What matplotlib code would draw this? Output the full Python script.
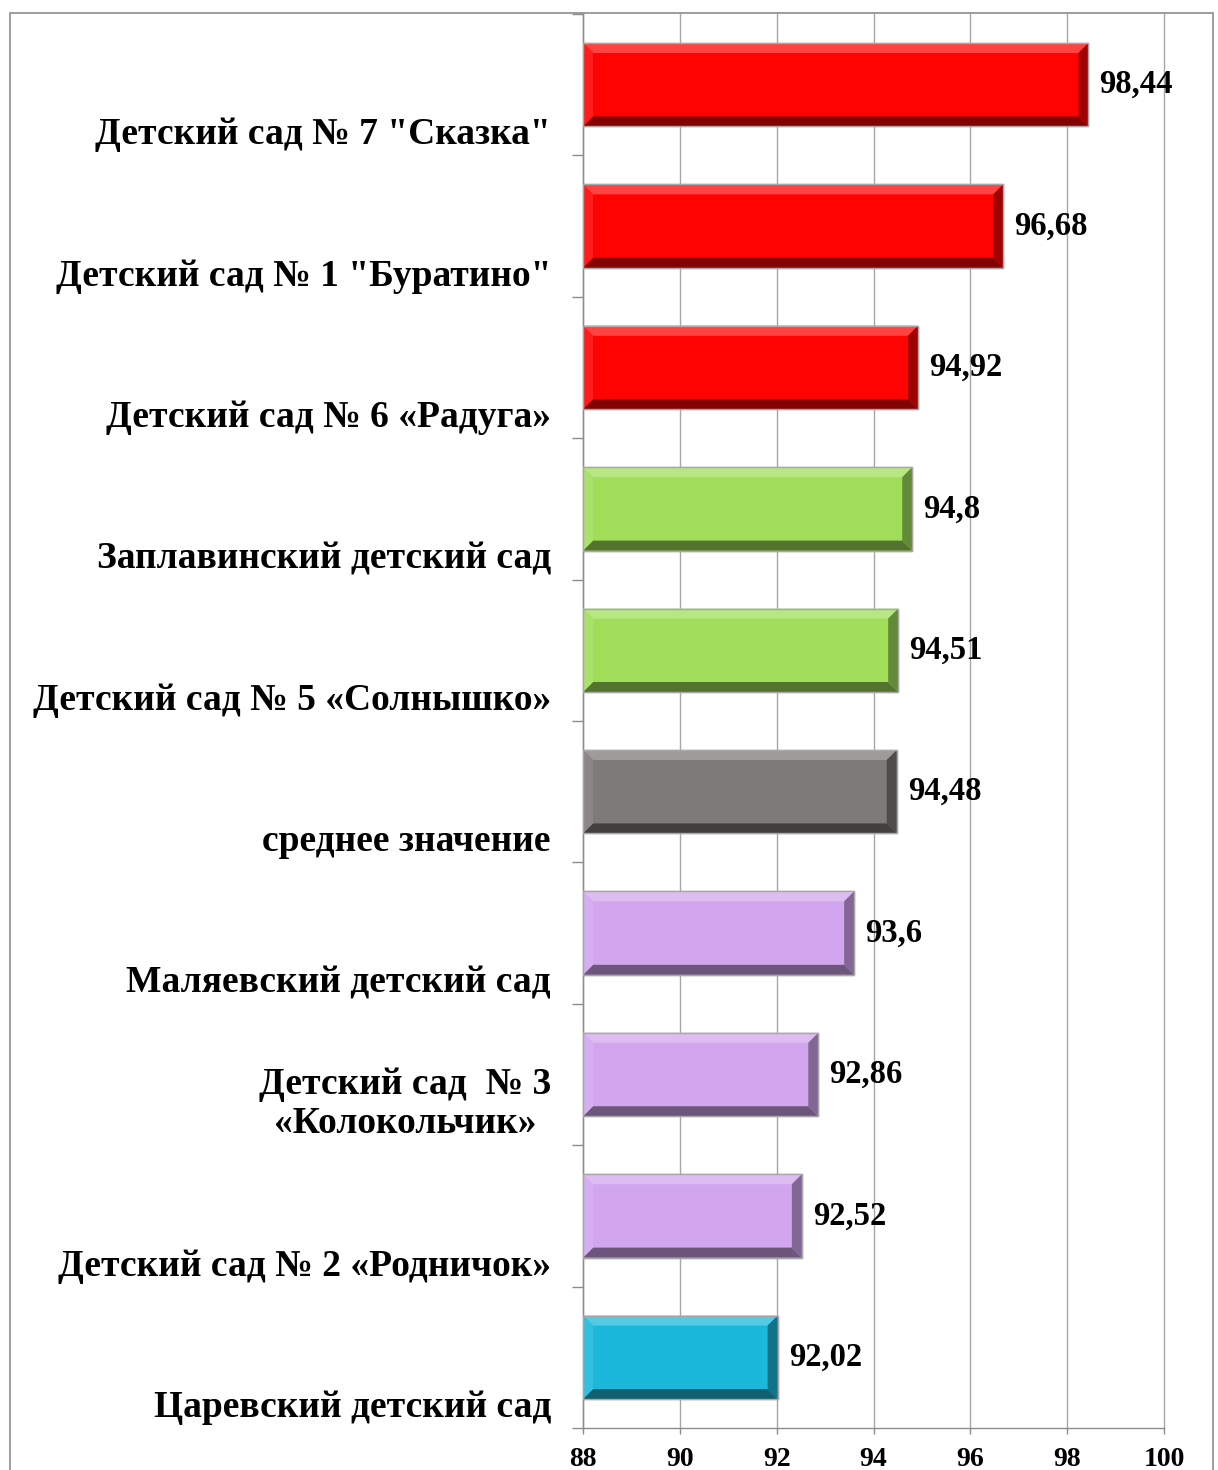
import matplotlib
matplotlib.use("Agg")
import matplotlib.pyplot as plt
from matplotlib.patches import Polygon, Rectangle
from matplotlib.transforms import blended_transform_factory
import matplotlib.colors as mcolors

categories = [
    'Детский сад № 7 "Сказка"',
    'Детский сад № 1 "Буратино"',
    'Детский сад № 6 «Радуга»',
    'Заплавинский детский сад',
    'Детский сад № 5 «Солнышко»',
    'среднее значение',
    'Маляевский детский сад',
    'Детский сад  № 3\n«Колокольчик»',
    'Детский сад № 2 «Родничок»',
    'Царевский детский сад',
]
values = [98.44, 96.68, 94.92, 94.8, 94.51, 94.48, 93.6, 92.86, 92.52, 92.02]
value_labels = ['98,44', '96,68', '94,92', '94,8', '94,51', '94,48', '93,6', '92,86', '92,52', '92,02']
x_ticks = [88, 90, 92, 94, 96, 98, 100]

RED = '#FF0303'
GREEN = '#A0DE5A'
GRAY = '#7F7A7A'
LAV = '#D2A6EE'
CYAN = '#1BB8DC'
bar_colors = [RED, RED, RED, GREEN, GREEN, GRAY, LAV, LAV, LAV, CYAN]

FONT = 'Liberation Serif'
plt.rcParams['font.family'] = [FONT, 'DejaVu Serif']

W, H = 1218, 1470
fig = plt.figure(figsize=(W / 100, H / 100), dpi=100)
fig.patch.set_facecolor('white')

# outer frame of the chart
fig.add_artist(Rectangle((10 / W, -0.2), 1203 / W, 1.2 - 13 / H,
                         transform=fig.transFigure, fill=False,
                         edgecolor='#8C8C8C', linewidth=1.2))

ax = fig.add_axes([583 / W, 1 - 1428 / H, (1164 - 583) / W, (1428 - 14) / H])
xmin, xmax = 88, 100
ax.set_xlim(xmin, xmax)
n = len(categories)
ax.set_ylim(n - 0.5, -0.5)

bar_h = 0.59
ypos = list(range(n))
bars = ax.barh(ypos, [v - xmin for v in values], left=xmin, height=bar_h,
               color=bar_colors, edgecolor='#A8A8A8', linewidth=1.0, zorder=3)

# bevel effect
px_per_x = (1164 - 583) / (xmax - xmin)
px_per_y = (1428 - 14) / n
dx = 10 / px_per_x
dy = 10 / px_per_y


def shade(c, f):
    r, g, b = mcolors.to_rgb(c)
    if f >= 0:
        return (r + (1 - r) * f, g + (1 - g) * f, b + (1 - b) * f)
    f = -f
    return (r * (1 - f), g * (1 - f), b * (1 - f))


for y, v, c in zip(ypos, values, bar_colors):
    x0, x1 = xmin, v
    yt, yb = y - bar_h / 2, y + bar_h / 2
    polys = [
        ([(x0, yt), (x1, yt), (x1 - dx, yt + dy), (x0 + dx, yt + dy)], shade(c, 0.25)),
        ([(x0, yb), (x1, yb), (x1 - dx, yb - dy), (x0 + dx, yb - dy)], shade(c, -0.48)),
        ([(x0, yt), (x0 + dx, yt + dy), (x0 + dx, yb - dy), (x0, yb)], shade(c, 0.10)),
        ([(x1, yt), (x1 - dx, yt + dy), (x1 - dx, yb - dy), (x1, yb)], shade(c, -0.38)),
    ]
    for pts, col in polys:
        ax.add_patch(Polygon(pts, closed=True, facecolor=col, edgecolor='none', zorder=4))
    ax.add_patch(Rectangle((x0, yt), x1 - x0, bar_h, fill=False,
                           edgecolor='#A8A8A8', linewidth=1.0, zorder=5))

# value labels
for y, v, lab in zip(ypos, values, value_labels):
    ax.annotate(lab, (v, y), xytext=(8, 0), textcoords='offset points',
                ha='left', va='center', fontsize=23.5, fontweight='bold',
                family=FONT, zorder=6)

# category labels
tr = blended_transform_factory(ax.transAxes, ax.transData)
for y, lab in zip(ypos, categories):
    nl = lab.count('\n') + 1
    ax.text(-32 / (1164 - 583), y + 0.5 - 0.145 * nl, lab, transform=tr,
            ha='right', va='center', multialignment='center',
            fontsize=27, fontweight='bold', family=FONT, linespacing=1.17)

# grid & axes
ax.set_xticks(x_ticks)
ax.set_xticklabels([str(t) for t in x_ticks], fontsize=20, fontweight='bold')
ax.tick_params(axis='x', length=4.5, color='#8C8C8C', width=1, pad=9)
ax.xaxis.grid(True, color='#A6A6A6', linewidth=1, zorder=0)
for gl in ax.get_xgridlines():
    gl.set_clip_on(False)
ax.set_axisbelow(True)
ax.set_yticks([i - 0.5 for i in range(n + 1)])
ax.set_yticklabels([])
ax.tick_params(axis='y', length=8, color='#8C8C8C', width=1)
for s in ['top', 'right']:
    ax.spines[s].set_visible(False)
for s in ['left', 'bottom']:
    ax.spines[s].set_color('#8C8C8C')
    ax.spines[s].set_linewidth(1)

fig.savefig('out.png', dpi=100, facecolor='white')
